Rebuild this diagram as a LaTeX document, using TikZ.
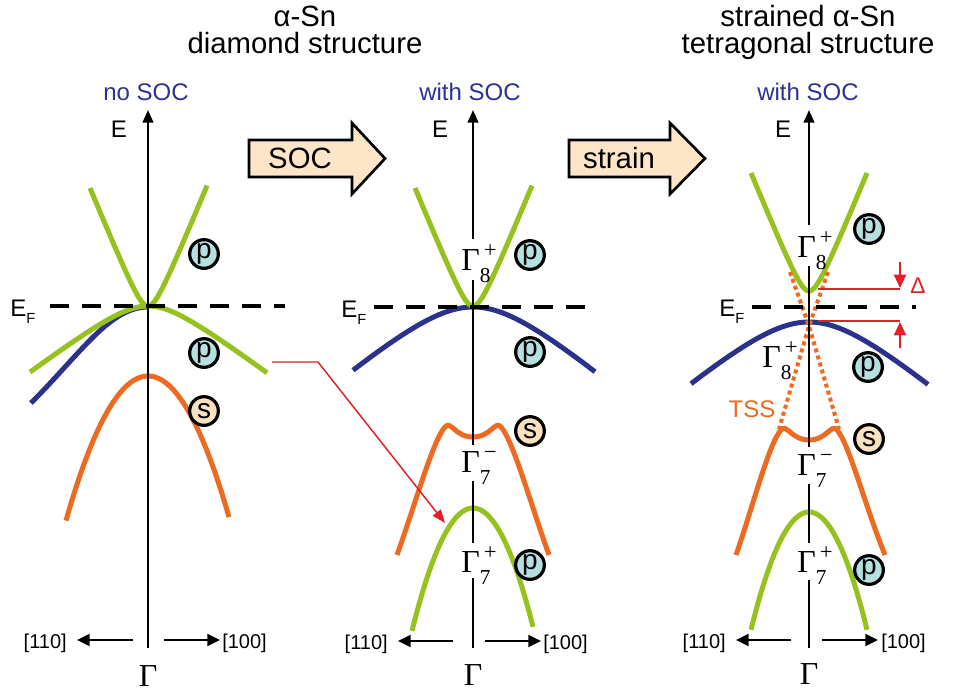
\documentclass[tikz,border=0pt]{standalone}
\usepackage{fontspec}
\setmainfont{Liberation Sans}
\newfontfamily\gfont{Liberation Serif}
\usetikzlibrary{arrows.meta}
\definecolor{bgreen}{RGB}{150,193,31}
\definecolor{borange}{RGB}{236,106,33}
\definecolor{bblue}{RGB}{44,50,140}
\definecolor{tblue}{RGB}{46,49,146}
\definecolor{bred}{RGB}{228,30,38}
\definecolor{pfill}{RGB}{182,223,224}
\definecolor{sfill}{RGB}{250,226,192}
\definecolor{afill}{RGB}{253,230,200}
\tikzset{
  band/.style={line width=3.75pt},
  axisline/.style={line width=1.6pt},
  axisarrow/.style={line width=1.6pt,-{Triangle[length=9.5pt,width=8pt]}},
  dirarrow/.style={line width=1.6pt,-{Triangle[length=9.5pt,width=9pt]}},
  efline/.style={line width=3pt,dash pattern=on 14pt off 10pt},
  tssline/.style={line width=3pt,borange,dash pattern=on 3pt off 2.5pt},
  badge/.style={circle,draw,line width=2.4pt,minimum size=21.5pt,inner sep=0pt,font=\fontsize{21}{21}\selectfont},
  pbadge/.style={badge,fill=pfill},
  sbadge/.style={badge,fill=sfill},
  gam/.style={inner sep=0pt,anchor=base west},
  gambot/.style={inner sep=0pt,anchor=base},
  ttl/.style={inner sep=0pt,anchor=base,font=\fontsize{22}{22}\selectfont},
  subttl/.style={inner sep=0pt,anchor=base,text=tblue,font=\fontsize{18}{18}\selectfont},
  elab/.style={inner sep=0pt,anchor=base,font=\fontsize{18}{18}\selectfont},
  eflab/.style={inner sep=0pt,anchor=base west,font=\fontsize{18}{18}\selectfont},
  dirlab/.style={inner sep=0pt,font=\fontsize{15}{15}\selectfont},
  blockarrow/.style={draw,line width=2pt,fill=afill,line join=miter},
  blocktext/.style={inner sep=0pt,anchor=base,font=\fontsize{22}{22}\selectfont},
  redcon/.style={line width=1.1pt,bred,-{Triangle[length=10pt,width=7.5pt]}},
  redthin/.style={line width=1.2pt,bred},
  redarrow/.style={line width=1.6pt,bred,-{Triangle[length=10pt,width=9pt]}},
}
\newcommand{\EFtext}{E\raisebox{-5.25pt}{\fontsize{11}{11}\selectfont F}}
\newcommand{\GamLab}[2]{{\gfont\fontsize{24}{24}\selectfont Γ\rlap{\hspace{3pt}\raisebox{9.5pt}{\fontsize{17}{17}\selectfont #1}}\raisebox{-9pt}{\fontsize{16}{16}\selectfont #2}}}
\newcommand{\GamBare}{{\gfont\fontsize{24}{24}\selectfont Γ}}
\begin{document}
\begin{tikzpicture}[x=0.75pt,y=-0.75pt]
\useasboundingbox (0,0) rectangle (969,694);

% ---------- titles ----------
\node[ttl] (t1a) at (305,26) {α-Sn};
\node[ttl] (t1b) at (305,53) {diamond structure};
\node[ttl] (t2a) at (808,26) {strained α-Sn};
\node[ttl] (t2b) at (808,53) {tetragonal structure};
\node[subttl] (s1) at (146,100) {no SOC};
\node[subttl] (s2) at (470,100) {with SOC};
\node[subttl] (s3) at (808,100) {with SOC};

% ---------- block arrows ----------
\draw[blockarrow] (249,140) -- (352,140) -- (352,123) -- (385,158.5) -- (352,194) -- (352,177) -- (249,177) -- cycle;
\node[blocktext] (soc) at (300,168) {SOC};
\draw[blockarrow] (569,140) -- (670,140) -- (670,123) -- (705,158.5) -- (670,194) -- (670,177) -- (569,177) -- cycle;
\node[blocktext] (strain) at (619,168) {strain};

% ---------- panel 1 bands ----------
\draw[band,borange] plot[domain=-82:81,samples=80] ({148+\x},{376+0.0215*(\x)*(\x)});
\draw[band,bblue] (148,307) .. controls (110,307) and (81,353) .. (31,403);
\draw[band,bgreen] plot[domain=-118:119,samples=100] ({148+\x},{306+10*sqrt(6.917+0.005625*(\x)*(\x))-26.3});
\draw[band,bgreen] plot[domain=-58:59,samples=80] ({148+\x},{331-10*sqrt(6.25+0.05893*(\x)*(\x))});

% ---------- panel 2 bands ----------
\draw[band,bblue] plot[domain=-120:122,samples=100] ({473+\x},{307+10*sqrt(25.6+0.007225*(\x)*(\x))-50.6});
\draw[band,bgreen] plot[domain=-58:59,samples=80] ({473+\x},{331-10*sqrt(6.25+0.05893*(\x)*(\x))});
\begin{scope}[shift={(473,0)}]
\draw[band,borange] (-76,555) .. controls (-58,505) and (-40,440) .. (-28,427)
  .. controls (-22,420) and (-18,437) .. (0,437)
  .. controls (18,437) and (22,420) .. (28,427)
  .. controls (40,440) and (58,505) .. (76,555);
\end{scope}
\draw[band,bgreen] plot[domain=-61:60,samples=80] ({473+\x},{508+0.033*(\x)*(\x)});

% ---------- panel 3 bands ----------
\draw[band,bblue] plot[domain=-118:119,samples=100] ({809+\x},{322+10*sqrt(25.6+0.007225*(\x)*(\x))-50.6});
\draw[band,bgreen] plot[domain=-58:58,samples=80] ({809+\x},{316-10*sqrt(6.25+0.05893*(\x)*(\x))});
\begin{scope}[shift={(809,3)}]
\draw[band,borange] (-73,552) .. controls (-56,503) and (-40,440) .. (-28,427)
  .. controls (-22,420) and (-18,437) .. (0,437)
  .. controls (18,437) and (22,420) .. (28,427)
  .. controls (40,440) and (56,503) .. (76,552);
\end{scope}
\draw[band,bgreen] plot[domain=-58:58,samples=80] ({809+\x},{512+0.035*(\x)*(\x)});

% TSS dotted lines
\coordinate (tA1) at (790,272);
\coordinate (tX) at (809,326);
\coordinate (tA2) at (839,429);
\coordinate (tB1) at (828,272);
\coordinate (tB2) at (779,429);
\draw[tssline] (tA1) -- (tX) -- (tA2);
\draw[tssline] (tB1) -- (tX) -- (tB2);
\node[inner sep=0pt,anchor=base,text=borange,font=\fontsize{18}{18}\selectfont] (tss) at (752,417) {TSS};

% ---------- Fermi levels ----------
\coordinate (ef1a) at (50,306);  \coordinate (ef1b) at (285,306);
\coordinate (ef2a) at (374,307); \coordinate (ef2b) at (596,307);
\coordinate (ef3a) at (752,307); \coordinate (ef3b) at (916,307);
\draw[efline] (ef1a) -- (ef1b);
\draw[efline] (ef2a) -- (ef2b);
\draw[efline] (ef3a) -- (ef3b);
\node[eflab] (efl1) at (10,316) {\EFtext};
\node[eflab] (efl2) at (341,317) {\EFtext};
\node[eflab] (efl3) at (719,316) {\EFtext};

% ---------- axes ----------
\coordinate (a1b) at (148,648); \coordinate (a1t) at (148,110);
\draw[axisarrow] (a1b) -- (a1t);
\coordinate (a2b) at (473,648); \coordinate (a2g1) at (473,578);
\coordinate (a2g2) at (473,543); \coordinate (a2g3) at (473,481);
\coordinate (a2g4) at (473,445); \coordinate (a2g5) at (473,280);
\coordinate (a2g6) at (473,239); \coordinate (a2t) at (473,110);
\draw[axisline] (a2b) -- (a2g1);
\draw[axisline] (a2g2) -- (a2g3);
\draw[axisline] (a2g4) -- (a2g5);
\draw[axisarrow] (a2g6) -- (a2t);
\coordinate (a3b) at (809,648); \coordinate (a3g1) at (809,580);
\coordinate (a3g2) at (809,543); \coordinate (a3g3) at (809,484);
\coordinate (a3g4) at (809,447); \coordinate (a3g5) at (809,266);
\coordinate (a3g6) at (809,225); \coordinate (a3t) at (809,110);
\draw[axisline] (a3b) -- (a3g1);
\draw[axisline] (a3g2) -- (a3g3);
\draw[axisline] (a3g4) -- (a3g5);
\draw[axisarrow] (a3g6) -- (a3t);

\node[elab] (e1) at (119,137.5) {E};
\node[elab] (e2) at (440,137.5) {E};
\node[elab] (e3) at (783,137.5) {E};

% direction arrows
\coordinate (d1a) at (133,640); \coordinate (d1b) at (77,640);
\coordinate (d1c) at (164,640); \coordinate (d1d) at (220,640);
\draw[dirarrow] (d1a) -- (d1b);
\draw[dirarrow] (d1c) -- (d1d);
\node[dirlab,anchor=base east] (l110a) at (67,648) {[110]};
\node[dirlab,anchor=base west] (l100a) at (222,648) {[100]};
\coordinate (d2a) at (453,641); \coordinate (d2b) at (398,641);
\coordinate (d2c) at (485,641); \coordinate (d2d) at (541,641);
\draw[dirarrow] (d2a) -- (d2b);
\draw[dirarrow] (d2c) -- (d2d);
\node[dirlab,anchor=base east] (l110b) at (388,649) {[110]};
\node[dirlab,anchor=base west] (l100b) at (543,649) {[100]};
\coordinate (d3a) at (791,640); \coordinate (d3b) at (736,640);
\coordinate (d3c) at (822,640); \coordinate (d3d) at (878,640);
\draw[dirarrow] (d3a) -- (d3b);
\draw[dirarrow] (d3c) -- (d3d);
\node[dirlab,anchor=base east] (l110c) at (726,648) {[110]};
\node[dirlab,anchor=base west] (l100c) at (881,648) {[100]};

% Gamma labels
\node[gambot] (g1) at (148,686) {\GamBare};
\node[gambot] (g2) at (473,685) {\GamBare};
\node[gambot] (g3) at (809,684) {\GamBare};
\node[gam] (g2a) at (461,270) {\GamLab{+}{8}};
\node[gam] (g2b) at (461,472) {\GamLab{−}{7}};
\node[gam] (g2c) at (461,572) {\GamLab{+}{7}};
\node[gam] (g3a) at (797,257) {\GamLab{+}{8}};
\node[gam] (g3b) at (762,367) {\GamLab{+}{8}};
\node[gam] (g3c) at (797,475) {\GamLab{−}{7}};
\node[gam] (g3d) at (797,572) {\GamLab{+}{7}};

% orbital badges
\node[pbadge] (p1a) at (204,254) {p};
\node[pbadge] (p1b) at (204,353) {p};
\node[sbadge] (s1a) at (204,411) {s};
\node[pbadge] (p2a) at (530,255) {p};
\node[pbadge] (p2b) at (530,352) {p};
\node[sbadge] (s2a) at (530,431) {s};
\node[pbadge] (p2c) at (530,565) {p};
\node[pbadge] (p3a) at (869,229) {p};
\node[pbadge] (p3b) at (868,367) {p};
\node[sbadge] (s3a) at (869,439) {s};
\node[pbadge] (p3c) at (869,570) {p};

% red connector from panel 1 to panel 2
\coordinate (r0) at (272,362);
\coordinate (r1) at (318,362);
\coordinate (r2) at (445,523);
\draw[redcon] (r0) -- (r1) -- (r2);

% gap Delta
\coordinate (dl1) at (818,289); \coordinate (dl2) at (900,289);
\coordinate (dl3) at (818,321); \coordinate (dl4) at (900,321);
\draw[redthin] (dl1) -- (dl2);
\draw[redthin] (dl3) -- (dl4);
\coordinate (da1) at (900,262); \coordinate (da2) at (900,288);
\coordinate (da3) at (900,348); \coordinate (da4) at (900,322);
\draw[redarrow] (da1) -- (da2);
\draw[redarrow] (da3) -- (da4);
\node[inner sep=0pt,anchor=base,text=bred,font=\fontsize{17}{17}\selectfont] (delta) at (918,293) {Δ};

\end{tikzpicture}
\end{document}
